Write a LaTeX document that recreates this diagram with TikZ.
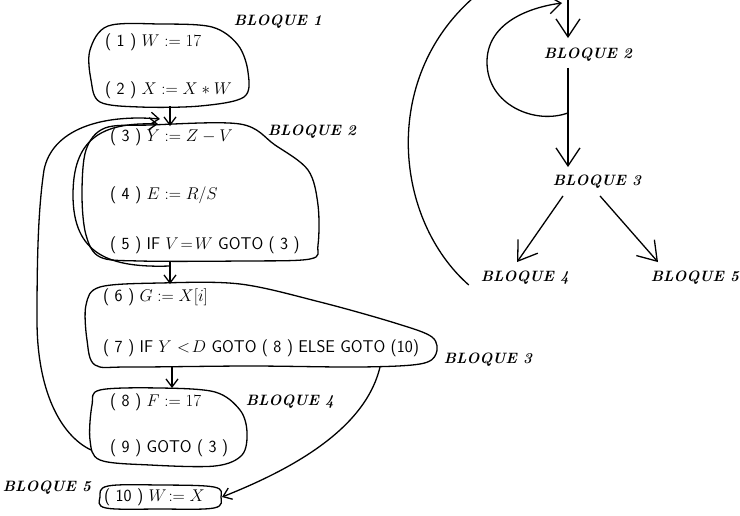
\documentclass[tikz,border=0pt]{standalone}
\usepackage{fix-cm}
\usepackage{fontspec}
\usetikzlibrary{arrows.meta,calc}

\tikzset{
  stmt/.style={anchor=west, inner sep=0pt, font=\fontsize{17}{20}\selectfont\sffamily},
  blocklabel/.style={inner sep=0pt, font=\fontsize{15}{18}\selectfont\bfseries\itshape},
  blob/.style={line width=1.3pt, line join=round},
  edge/.style={line width=1.3pt},
  flow/.style={edge, -{Straight Barb[length=8pt,width=12pt]}},
  bigflow/.style={edge, -{Straight Barb[length=18pt,width=24pt]}},
  midflow/.style={edge, -{Straight Barb[length=12pt,width=18pt]}},
}

\begin{document}
\begin{tikzpicture}[x=1pt,y=-1pt]
\useasboundingbox (0,0) rectangle (740,515);
\fill[white] (0,0) rectangle (740,515);
\clip (0,0) rectangle (740,515);

% ---------- statements ----------
\node[stmt] (s1)  at (105,42)  {( 1 ) $W := 17$};
\node[stmt] (s2)  at (105,90)  {( 2 ) $X := X \ast W$};
\node[stmt] (s3)  at (110,137) {( 3 ) $Y := Z - V$};
\node[stmt] (s4)  at (110,195) {( 4 ) $E := R/S$};
\node[stmt] (s5)  at (110,245) {( 5 ) IF $V\!=\!W$ GOTO ( 3 )};
\node[stmt] (s6)  at (103,297) {( 6 ) $G := X[i]$};
\node[stmt] (s7)  at (103,348) {( 7 ) IF $Y$ $<\!D$ GOTO ( 8 ) ELSE GOTO (10)};
\node[stmt] (s8)  at (110,402) {( 8 ) $F := 17$};
\node[stmt] (s9)  at (110,448) {( 9 ) GOTO ( 3 )};
\node[stmt] (s10) at (104,497) {( 10 ) $W\!:= X$};

% ---------- block labels ----------
\node[blocklabel] (lb1) at (278,22)  {BLOQUE 1};
\node[blocklabel] (lb2) at (312,132) {BLOQUE 2};
\node[blocklabel] (lb3) at (488,360) {BLOQUE 3};
\node[blocklabel] (lb4) at (290,402) {BLOQUE 4};
\node[blocklabel] (lb5) at (47,488)  {BLOQUE 5};

% ---------- block outlines ----------
\draw[blob] plot[smooth cycle, tension=0.55] coordinates
  {(108,26) (160,24) (212,27) (238,45) (248,72) (244,97) (200,106) (140,107) (100,102) (91,80) (90,50)};
\draw[blob] plot[smooth cycle, tension=0.55] coordinates
  {(105,128) (150,125) (240,124) (275,145) (308,170) (318,205) (318,245) (310,259) (240,261) (140,261) (100,257) (86,235) (82,195) (86,150)};
\draw[blob] plot[smooth cycle, tension=0.55] coordinates
  {(100,287) (160,283) (240,284) (320,302) (395,323) (432,337) (436,354) (420,364) (360,367) (250,366) (130,367) (95,365) (87,340) (86,305)};
\draw[blob] plot[smooth cycle, tension=0.55] coordinates
  {(100,390) (160,388) (215,392) (240,410) (247,432) (242,455) (215,466) (150,465) (100,460) (90,440) (92,405)};
\draw[blob] plot[smooth cycle, tension=0.6] coordinates
  {(108,486) (160,485) (214,487) (221,497) (214,508) (160,509) (106,508) (100,497)};

% ---------- connection points ----------
\coordinate (b1bot) at (170,106);
\coordinate (b2top) at (170,126);
\coordinate (b2bot) at (170,261);
\coordinate (b3top) at (170,284);
\coordinate (b3bot) at (172,367);
\coordinate (b4top) at (172,388);
\coordinate (b3out) at (380,367);
\coordinate (b4left) at (91,450);
\coordinate (b5right) at (222,497);
\coordinate (loopin) at (158,124);
\coordinate (backin) at (160,119);
\coordinate (selfout) at (170,266);

% ---------- flow between blocks ----------
\draw[flow] (b1bot) -- (b2top);
\draw[flow] (b2bot) -- (b3top);
\draw[flow] (b3bot) -- (b4top);
% (5) back to (3)
\draw[flow] (selfout) .. controls (110,268) and (73,255) .. (73,195)
                      .. controls (73,140) and (100,122) .. (loopin);
% (9) back to (3)
\draw[flow] (b4left) .. controls (60,435) and (37,390) .. (37,320)
                     .. controls (37,260) and (38,210) .. (44,170)
                     .. controls (52,130) and (100,114) .. (backin);
% (7) to (10)
\draw[flow] (b3out) .. controls (365,430) and (290,470) .. (b5right);

% ---------- flow graph ----------
\node[blocklabel] (g2) at (588,55)  {BLOQUE 2};
\node[blocklabel] (g3) at (597,182) {BLOQUE 3};
\node[blocklabel] (g4) at (525,278) {BLOQUE 4};
\node[blocklabel] (g5) at (695,278) {BLOQUE 5};
\coordinate (gtop) at (568,-2);
\coordinate (arcend) at (473,-2);
\coordinate (jct) at ($(gtop |- g2.south)+(0,51)$);

\draw[bigflow] (gtop) -- ($(gtop |- g2.north)+(0,-10)$);
\draw[bigflow] ($(gtop |- g2.south)+(0,6)$) -- ($(gtop |- g3.north)+(0,-8)$);
\draw[bigflow] ($(g3.south)+(-34,7)$) -- ($(g4.north)+(-8,-9)$);
\draw[bigflow] ($(g3.south)+(3,7)$) -- ($(g5.north)+(-37,-9)$);
\draw[midflow] (jct) .. controls (535,125) and (487,105) .. (487,62)
                     .. controls (487,25) and (525,8) .. (562,3);
\draw[edge] ($(g4.west)+(-12,7)$) .. controls (395,220) and (380,80) .. (arcend);
\end{tikzpicture}
\end{document}
